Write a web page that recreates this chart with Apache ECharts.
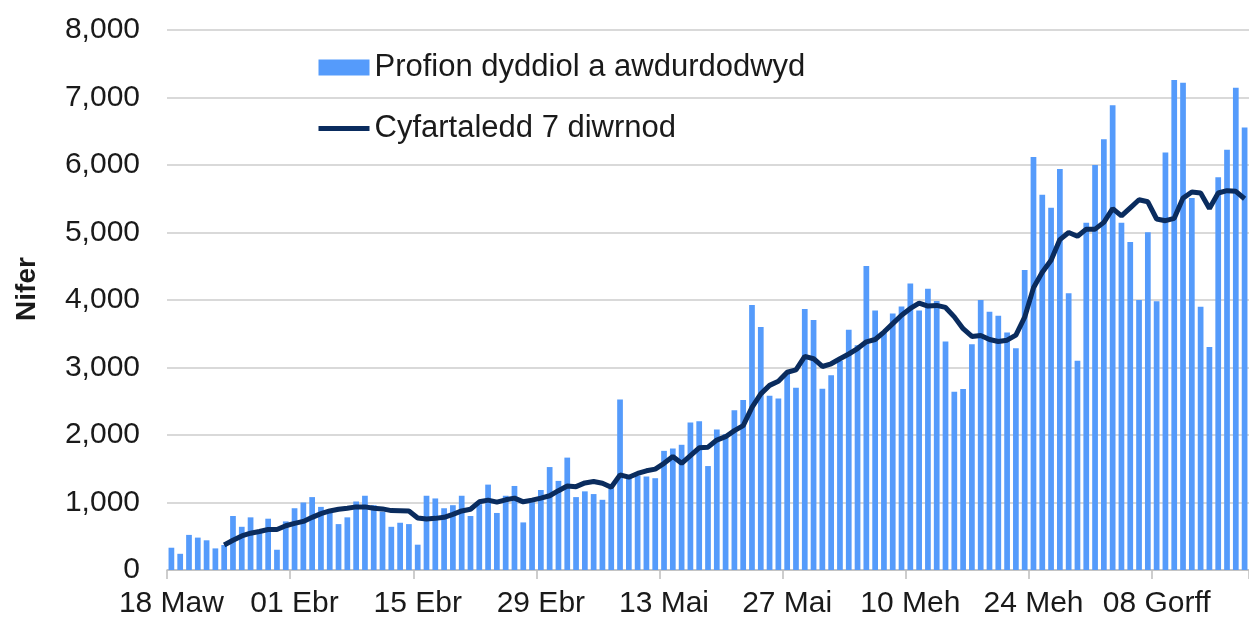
<!DOCTYPE html>
<html>
<head>
<meta charset="utf-8">
<script src="https://cdn.jsdelivr.net/npm/echarts@6/dist/echarts.min.js"></script>
<style>
html,body{margin:0;padding:0;background:#fff;}
#chart{width:1249px;height:621px;}
</style>
</head>
<body>
<div id="chart"></div>
<script>
// Category labels: daily from 18 Maw (18 March) to 18 Gorff (18 July)
var monthNames = ["Maw", "Ebr", "Mai", "Meh", "Gorff"];
var monthStart = [18, 1, 1, 1, 1];
var monthEnd = [31, 30, 31, 30, 18];
var categories = [];
for (var m = 0; m < monthNames.length; m++) {
  for (var d = monthStart[m]; d <= monthEnd[m]; d++) {
    categories.push((d < 10 ? "0" : "") + d + " " + monthNames[m]);
  }
}

var barName = "Profion dyddiol a awdurdodwyd";
var lineName = "Cyfartaledd 7 diwrnod";

var dailyTests = [
  330, 240, 520, 480, 440, 320, 370, 800, 640, 780,
  580, 760, 300, 720, 915, 1000, 1080, 935, 890, 680,
  780, 1015, 1100, 960, 865, 640, 700, 680, 375, 1100,
  1060, 915, 960, 1100, 800, 975, 1265, 845, 1100, 1245,
  705, 1005, 1185, 1525, 1320, 1665, 1080, 1165, 1125, 1040,
  1210, 2525, 1380, 1400, 1385, 1360, 1765, 1800, 1855, 2185,
  2205, 1540, 2080, 2010, 2365, 2520, 3925, 3600, 2580, 2540,
  2920, 2700, 3865, 3705, 2685, 2885, 3100, 3560, 3330, 4505,
  3845, 3530, 3800, 3905, 4245, 3845, 4165, 3985, 3385, 2640,
  2680, 3345, 4000, 3825, 3765, 3520, 3285, 4445, 6120, 5560,
  5365, 5940, 4100, 3100, 5145, 6000, 6380, 6885, 5145, 4860,
  4000, 5005, 3980, 6185, 7260, 7220, 5510, 3900, 3305, 5820,
  6225, 7145, 6555
];

var sevenDayAvg = [
  null, null, null, null, null, null, 370, 440, 505, 545,
  570, 600, 600, 655, 690, 720, 780, 835, 875, 900,
  915, 935, 935, 915, 905, 880, 878, 875, 770, 755,
  765, 780, 825, 875, 900, 1010, 1035, 1005, 1040, 1065,
  1010, 1035, 1065, 1100, 1175, 1245, 1235, 1290, 1310, 1285,
  1225, 1410, 1375, 1430, 1470, 1495, 1580, 1680, 1580, 1695,
  1810, 1820, 1925, 1975, 2065, 2140, 2410, 2610, 2735, 2795,
  2930, 2965, 3165, 3130, 3015, 3055, 3130, 3200, 3280, 3380,
  3415, 3525, 3650, 3775, 3875, 3955, 3910, 3920, 3890, 3750,
  3575, 3460, 3475, 3415, 3385, 3405, 3480, 3745, 4180, 4410,
  4590, 4895, 5000, 4945, 5050, 5050, 5150, 5355, 5245, 5365,
  5485, 5455, 5200, 5175, 5210, 5510, 5600, 5585, 5355, 5585,
  5620, 5610, 5500
];

var yTicks = {min: 0, max: 8000, interval: 1000};

var FONT = "'Liberation Sans', Arial, sans-serif";
var BAR_COLOR = '#559bfb';
var LINE_COLOR = '#0a2c5e';
var chart = echarts.init(document.getElementById('chart'));
chart.setOption({
  animation: false,
  backgroundColor: '#ffffff',
  textStyle: {fontFamily: FONT},
  grid: {left: 167, right: -3, top: 30, bottom: 51, containLabel: false},
  legend: {
    orient: 'vertical',
    left: 311,
    top: 47,
    itemWidth: 51,
    itemHeight: 16,
    itemGap: 30,
    textStyle: {fontSize: 31, color: '#1a1a1a', fontFamily: FONT},
    data: [
      {name: barName, icon: 'rect'},
      {name: lineName,
       itemStyle: {opacity: 0, color: 'rgba(0,0,0,0)', borderWidth: 0},
       lineStyle: {width: 5, color: LINE_COLOR, opacity: 1}}
    ]
  },
  xAxis: {
    type: 'category',
    data: categories,
    boundaryGap: true,
    axisLine: {show: true, lineStyle: {color: '#bdbdbd', width: 1.5}},
    axisTick: {show: true, interval: 13, length: 9, lineStyle: {color: '#bdbdbd', width: 1.5}},
    axisLabel: {interval: 13, fontSize: 30, color: '#1a1a1a', margin: 19, fontFamily: FONT},
    splitLine: {show: false}
  },
  yAxis: {
    type: 'value',
    min: yTicks.min,
    max: yTicks.max,
    interval: yTicks.interval,
    name: 'Nifer',
    nameLocation: 'middle',
    nameGap: 126,
    nameRotate: 90,
    nameTextStyle: {fontSize: 28, fontWeight: 'bold', color: '#1a1a1a', fontFamily: FONT, padding: [0, 0, 0, 22]},
    axisLine: {show: false},
    axisTick: {show: false},
    axisLabel: {
      fontSize: 30, color: '#1a1a1a', margin: 27, fontFamily: FONT,
      formatter: function (v) { return v.toLocaleString('en-US'); }
    },
    splitLine: {show: true, lineStyle: {color: '#cccccc', width: 1.5}}
  },
  series: [
    {
      name: barName,
      type: 'bar',
      data: dailyTests,
      barCategoryGap: '35%',
      itemStyle: {color: BAR_COLOR},
      z: 2
    },
    {
      name: lineName,
      type: 'line',
      data: sevenDayAvg,
      symbol: 'none',
      showSymbol: false,
      connectNulls: false,
      lineStyle: {color: LINE_COLOR, width: 5},
      itemStyle: {color: LINE_COLOR},
      z: 3
    }
  ]
});
</script>
</body>
</html>
